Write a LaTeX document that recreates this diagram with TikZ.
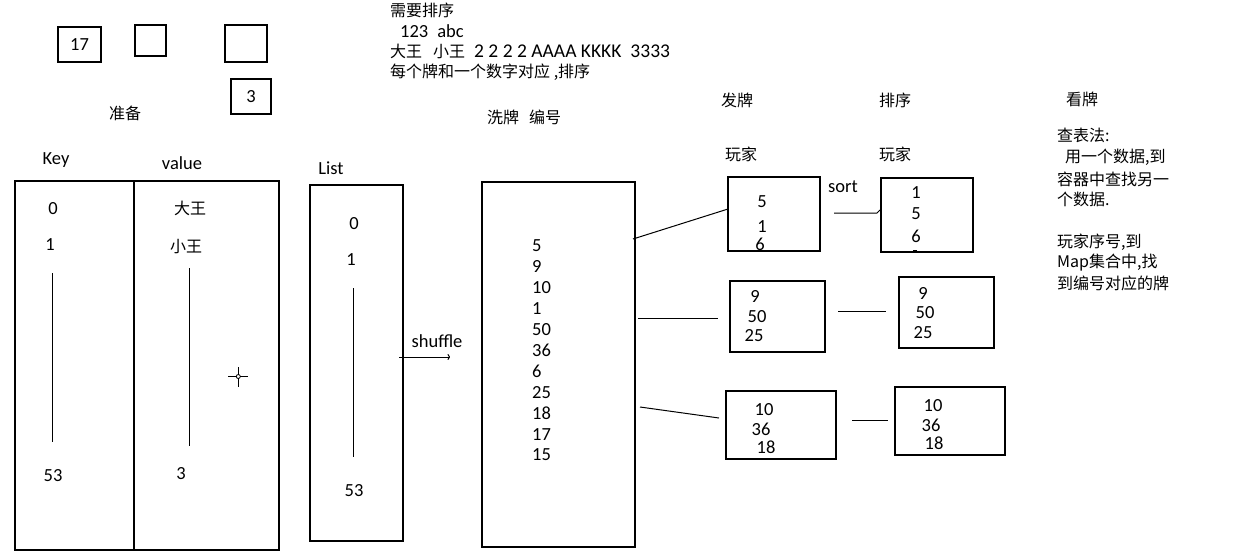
\documentclass[tikz,border=0pt]{standalone}
\usepackage{fontspec}
\setmainfont{Carlito}
\newfontfamily\cjk{Noto Sans CJK SC}
\usetikzlibrary{arrows.meta}
\newcommand{\cjks}[1]{{\cjk\fontsize{16}{21}\selectfont #1}}
\begin{document}
\begin{tikzpicture}[x=1pt,y=-1pt,
  box/.style={draw, line width=1.2pt, inner sep=0pt, outer sep=0pt},
  lat/.style={inner sep=0pt, font=\fontsize{18.5}{21}\selectfont},
  cn/.style={inner sep=0pt, font=\cjk\fontsize{16}{21}\selectfont},
  link/.style={line width=1pt},
]
\useasboundingbox[fill=white] (0,0) rectangle (1233,557);

% small boxes at top left
\node[box,lat,minimum width=43,minimum height=35] (b17) at (79.5,44.5) {17};
\node[box,minimum width=31,minimum height=31] (be1) at (150.5,40.5) {};
\node[box,minimum width=42,minimum height=37] (be2) at (246,43.5) {};
\node[box,lat,minimum width=40,minimum height=35] (b3) at (251,96.5) {3};
\node[cn] (prep) at (125,113) {准备};

% top text block
\node[cn,anchor=west] (t1) at (390,10) {需要排序};
\node[lat,anchor=west] (t2) at (400,31) {123\hspace{9pt}abc};
\node[inner sep=0pt,font=\fontsize{19.5}{21}\selectfont,anchor=west] (t3) at (390,51) {\cjks{大王}\hspace{11pt}\cjks{小王}\hspace{9pt}2 2 2 2 AAAA KKKK\hspace{9pt}3333};
\node[cn,anchor=west] (t4) at (390,72) {每个牌和一个数字对应 ,排序};
\node[cn,anchor=west] (t5) at (487,117) {洗牌\hspace{10pt}编号};

% headers
\node[lat] (hkey) at (56,160) {Key};
\node[lat] (hval) at (182,163) {value};
\node[lat] (hlist) at (331,168) {List};
\node[cn] (hfa) at (737,100) {发牌};
\node[cn] (hpai) at (895,100) {排序};
\node[cn] (hkan) at (1082,99) {看牌};
\node[cn] (hw1) at (741,154) {玩家};
\node[cn] (hw2) at (895,154) {玩家};

% key / value map
\node[box,minimum width=119,minimum height=369] (keybox) at (74.5,365.5) {};
\node[box,minimum width=145,minimum height=369] (valbox) at (206.5,365.5) {};
\node[lat] (k0) at (53,209) {0};
\node[lat] (k1) at (50,245) {1};
\node[lat] (k53) at (53,476) {53};
\node[cn] (v0) at (190,208) {大王};
\node[cn] (v1) at (186,247) {小王};
\node[lat] (v3) at (181,474) {3};
\coordinate (ka) at (52.3,273); \coordinate (kb) at (52.3,442);
\coordinate (va) at (189.3,268); \coordinate (vb) at (189.3,446);
\draw[link] (ka) -- (kb);
\draw[link] (va) -- (vb);

% cursor crosshair
\coordinate (cross) at (238.3,376.5);
\draw[line width=0.9pt] ([xshift=-10]cross) -- ([xshift=-2]cross) ([xshift=2]cross) -- ([xshift=10]cross)
  ([yshift=-10]cross) -- ([yshift=-2]cross) ([yshift=2]cross) -- ([yshift=10]cross);
\draw[line width=0.8pt] (cross) circle (2);

% list
\node[box,minimum width=93,minimum height=356] (listbox) at (356.5,363) {};
\node[lat] (l0) at (354,224) {0};
\node[lat] (l1) at (351,260) {1};
\node[lat] (l53) at (354,491) {53};
\coordinate (la) at (353.3,288); \coordinate (lb) at (353.3,457);
\draw[link] (la) -- (lb);

% shuffle arrow
\node[lat] (shuf) at (437,341) {shuffle};
\coordinate (sa) at (399,357); \coordinate (sb) at (450,357);
\draw[link,-{To[length=2.5pt,width=6pt]}] (sa) -- (sb);

% shuffled box
\node[box,minimum width=153,minimum height=365] (shufbox) at (558.5,364.5) {};
\foreach \v [count=\i] in {5,9,10,1,50,36,6,25,18,17,15}
  \node[lat,anchor=west] (n\i) at (532,{246+20.9*(\i-1)}) {\v};

% players
\node[box,minimum width=92,minimum height=74] (p1) at (774,214) {};
\node[box,minimum width=95,minimum height=71] (p2) at (777.5,316.5) {};
\node[box,minimum width=110,minimum height=68] (p3) at (781,425) {};
\node[lat] at (762,202) {5};
\node[lat] at (762,227) {1};
\node[lat] at (760,244) {6};
\node[lat] at (755,296) {9};
\node[lat] at (757,317) {50};
\node[lat] at (754,336) {25};
\node[lat] at (764,410) {10};
\node[lat] at (761,429) {36};
\node[lat] at (766,447) {18};

% sorted
\node[box,minimum width=92,minimum height=74] (s1) at (927,215) {};
\node[box,minimum width=95,minimum height=71] (s2) at (946.5,312.5) {};
\node[box,minimum width=110,minimum height=68] (s3) at (950,421) {};
\node[lat] at (916,193) {1};
\node[lat] at (916,214) {5};
\node[lat] at (916,236) {6};
\coordinate (da) at (913,250.5); \coordinate (db) at (917,250.5);
\draw[line width=1pt] (da) -- (db);
\node[lat] at (923,293) {9};
\node[lat] at (925,313) {50};
\node[lat] at (923,333) {25};
\node[lat] at (933,406) {10};
\node[lat] at (931,425) {36};
\node[lat] at (934,443) {18};

\node[lat] (sort) at (843,187) {sort};

% connectors shuffled -> players
\coordinate (c1) at (633,239); \coordinate (c2) at (638,318); \coordinate (c3) at (640,407);
\draw[link] (c1) -- ([yshift=5]p1.west);
\draw[link] (c2) -- ([xshift=-12,yshift=-1.5]p2.west);
\draw[link] (c3) -- ([xshift=-7,yshift=7]p3.west);

% connectors players -> sorted
\coordinate (d1a) at (834,213); \coordinate (d1b) at (877,213); \coordinate (d1c) at (880,210);
\draw[link] (d1a) -- (d1b) -- (d1c);
\coordinate (d2a) at (838,311.5); \coordinate (d2b) at (886,311.5);
\draw[link] (d2a) -- (d2b);
\coordinate (d3a) at (852,420); \coordinate (d3b) at (888,420);
\draw[link] (d3a) -- (d3b);

% right text
\node[cn,anchor=west] (r1) at (1057,135) {查表法:};
\node[cn,anchor=west] (r2) at (1065,157) {用一个数据,到};
\node[cn,anchor=west] (r3) at (1057,179) {容器中查找另一};
\node[cn,anchor=west] (r4) at (1057,199) {个数据.};
\node[cn,anchor=west] (r5) at (1057,242) {玩家序号,到};
\node[cn,anchor=west] (r6) at (1057,263) {Map集合中,找};
\node[cn,anchor=west] (r7) at (1057,283) {到编号对应的牌};
\end{tikzpicture}
\end{document}
